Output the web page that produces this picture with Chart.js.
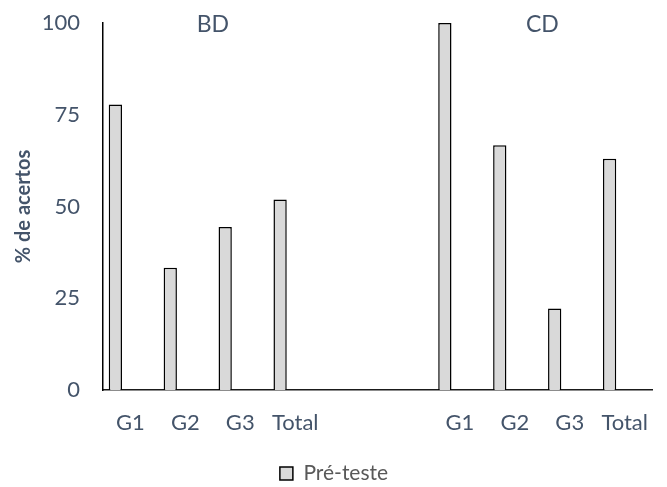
<!DOCTYPE html>
<html>
<head>
<meta charset="utf-8">
<script src="https://cdn.jsdelivr.net/npm/chart.js@4.4.1/dist/chart.umd.min.js"></script>
<style>
  html, body { margin: 0; padding: 0; overflow: hidden; background: #ffffff; }
  #wrap { width: 668px; height: 487px; position: relative; }
</style>
</head>
<body>
<div id="wrap"><canvas id="chart"></canvas></div>
<script>
// Categories: two groups of four, with two empty slots between them
const categories = ['G1', 'G2', 'G3', 'Total', '', '', 'G1', 'G2', 'G3', 'Total'];
const preTeste = [77.8, 33.3, 44.4, 51.9, null, null, 100, 66.7, 22.2, 63.0];
const emptySlot = [null, null, null, null, null, null, null, null, null, null];
const yTicks = [0, 25, 50, 75, 100];
const groupNames = ['BD', 'CD'];
const groupFirst = [0, 6];
const groupLast = [3, 9];

const TEXT = '#44546A';
const FONT = 'Lato, "Open Sans", sans-serif';

// Writes each group name above the middle of its categories
const groupTitles = {
  id: 'groupTitles',
  afterDatasetsDraw(chart) {
    const { ctx, scales } = chart;
    ctx.save();
    ctx.fillStyle = TEXT;
    ctx.font = '23px ' + FONT;
    ctx.textAlign = 'center';
    ctx.textBaseline = 'middle';
    groupNames.forEach((name, i) => {
      const x = (scales.x.getPixelForValue(groupFirst[i]) + scales.x.getPixelForValue(groupLast[i])) / 2;
      ctx.fillText(name, x, scales.y.getPixelForValue(100) + 2);
    });
    ctx.restore();
  }
};

new Chart(document.getElementById('chart'), {
  type: 'bar',
  data: {
    labels: categories,
    datasets: [
      {
        label: 'Pré-teste',
        data: preTeste,
        backgroundColor: '#d9d9d9',
        borderColor: '#000000',
        borderWidth: 1.5,
        borderSkipped: 'start'
      },
      {
        // second, empty slot per category keeps the bar on the left half
        label: '',
        data: emptySlot,
        backgroundColor: 'rgba(0,0,0,0)'
      }
    ]
  },
  options: {
    responsive: true,
    maintainAspectRatio: false,
    animation: false,
    devicePixelRatio: 1,
    categoryPercentage: 1.1,
    barPercentage: 0.44,
    layout: { padding: { top: 23, right: 0, bottom: -7, left: 0 } },
    plugins: {
      tooltip: { enabled: false },
      legend: {
        position: 'bottom',
        labels: {
          filter: (item) => item.text !== '',
          boxWidth: 13,
          boxHeight: 13,
          padding: 10,
          color: '#595959',
          font: { family: FONT, size: 21 }
        }
      }
    },
    scales: {
      x: {
        grid: { display: false, drawTicks: false },
        border: { display: true, color: '#1a1a1a', width: 1.5 },
        ticks: {
          color: TEXT,
          padding: 20,
          maxRotation: 0,
          autoSkip: false,
          font: { family: FONT, size: 22 }
        },
        afterFit(scale) { scale.height = 63; }
      },
      y: {
        min: 0,
        max: 100,
        afterBuildTicks(scale) { scale.ticks = yTicks.map(v => ({ value: v })); },
        grid: { display: false, drawTicks: false },
        border: { display: true, color: '#000000', width: 1.5 },
        ticks: {
          color: TEXT,
          padding: 23,
          font: { family: FONT, size: 22 }
        },
        title: {
          display: true,
          text: '% de acertos',
          color: TEXT,
          padding: { top: 12, bottom: 0 },
          font: { family: FONT, size: 20, weight: 'bold' }
        },
        afterFit(scale) {
          scale.width = 103;
          scale.paddingTop = 0;
          scale.paddingBottom = 0;
        }
      }
    }
  },
  plugins: [groupTitles]
});
</script>
</body>
</html>
